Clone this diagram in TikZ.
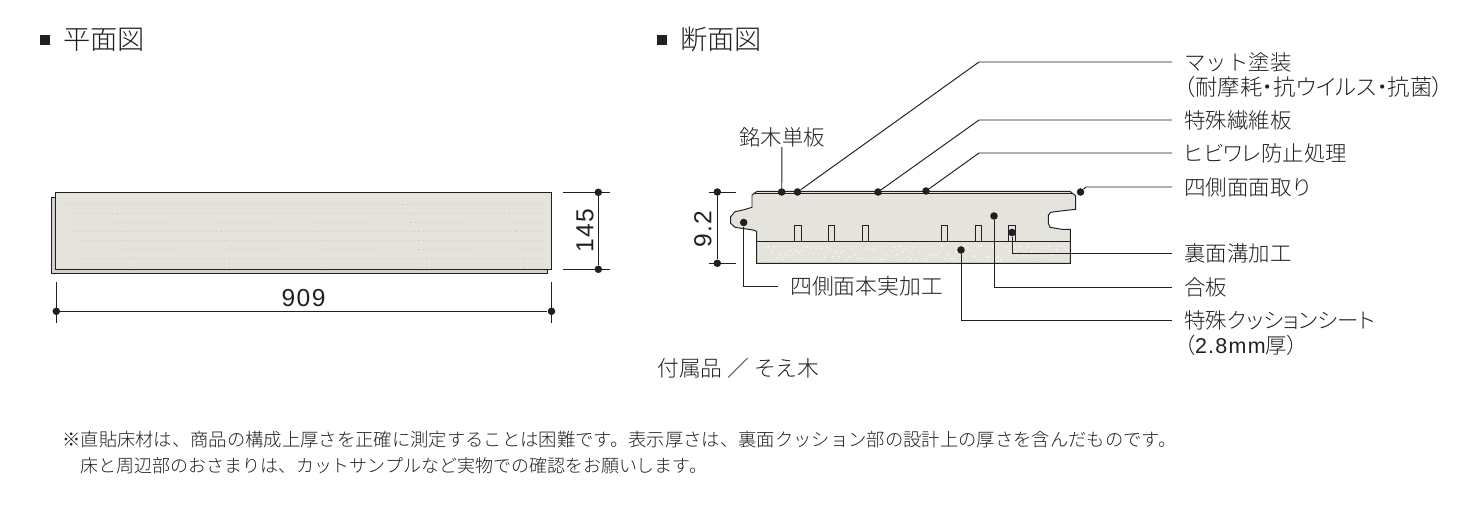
\documentclass[tikz,border=0pt]{standalone}
\usepackage{fontspec}
\setmainfont{Noto Sans CJK JP Light}
\newfontfamily\digitfont[LetterSpace=6]{Liberation Sans}
\newfontfamily\paltfont[RawFeature=+palt]{Noto Sans CJK JP Light}
\definecolor{inkc}{HTML}{231F20}
\definecolor{facec}{HTML}{E4E4DC}
\definecolor{sidec}{HTML}{D2D2CA}
\definecolor{speckc}{HTML}{D0D0C6}
\tikzset{
	pin/.style={circle, fill=inkc, inner sep=0pt, minimum size=4.3pt},
	part/.style={anchor=west, inner xsep=6.8pt, inner ysep=0pt, font=\fontsize{12.2}{12.2}\selectfont, text=inkc},
	heading/.style={anchor=west, inner sep=0pt, font=\fontsize{15.5}{15.5}\selectfont, text=inkc},
	remark/.style={anchor=west, inner sep=0pt, text=inkc},
	size/.style={inner sep=0pt, font=\fontsize{14}{14}\digitfont, text=inkc},
	rule/.style={inkc, line width=0.55pt},
	speck/.style={speckc, line width=0.5pt, dash pattern=on 0.6pt off 1.7pt}
}
\begin{document}
\begin{tikzpicture}[x=0.02cm, y=-0.02cm]
	\useasboundingbox (0,0) rectangle (1469,517);

	% headings
	\fill[inkc] (40,35) rectangle (50,45);
	\node[heading] (headplan) at (63,39.5) {平面図};
	\fill[inkc] (657,35) rectangle (667,45);
	\node[heading] (headcut) at (680,39.5) {断面図};

	% plan
	\filldraw[rule, fill=sidec] (51.3,197.3) rectangle (547.7,273.3);
	\filldraw[rule, fill=facec] (55.3,192.3) rectangle (551.3,269.3);
	\foreach \row/\from in {204/63, 213/68, 222/71, 231/75, 240/79, 249/79, 258/83, 267/83}
		\draw[speck] (\from,\row) -- (543,\row);

	\node[pin] (planL) at (56.3,311.3) {};
	\node[pin] (planR) at (551.5,311.3) {};
	\draw[rule] (planL) -- (planR);
	\draw[rule] (56.3,282) -- (56.3,322.7);
	\draw[rule] (551.5,282) -- (551.5,322.7);
	\node[size] (planlen) at (303.5,298) {909};

	\node[pin] (planT) at (598.3,192.3) {};
	\node[pin] (planB) at (598.3,269.3) {};
	\draw[rule] (planT) -- (planB);
	\draw[rule] (563,192.3) -- (610,192.3);
	\draw[rule] (563,269.3) -- (610,269.3);
	\node[size, rotate=90] (planwid) at (585,230.5) {145};

	% section
	\filldraw[rule, fill=facec] (757,191.3) -- (752,195) -- (752,207.3) -- (743,210) -- (735,211.7)
		-- (730.7,216.7) -- (730.7,223.3) -- (735,227.3) -- (753,230) -- (756.7,231.3)
		-- (756.7,263.3) -- (1070.3,263.3) -- (1070.3,229.3) -- (1061.7,229.3) -- (1050,227.3)
		-- (1048.3,223.3) -- (1048.3,215) -- (1050.7,212.3) -- (1063.3,210.7) -- (1075.7,209.3)
		-- (1075.7,196) -- (1070,191.3) -- cycle;
	\draw[rule] (755,193.6) -- (1072,193.6);
	\draw[rule] (756.7,241) -- (1070.3,241);
	\pgfmathsetseed{7}
	\foreach \i in {1,...,110} {
		\pgfmathsetmacro{\speckx}{760+\i*2.8}
		\pgfmathsetmacro{\specky}{245+15*rnd}
		\fill[white] (\speckx,\specky) circle (0.45pt);
	}
	\foreach \left/\right in {794.3/801.3, 828.3/834.7, 862.3/868.7, 941.3/947.7, 975.3/981.7, 1008.3/1015.7}
		\draw[rule] (\left,241) -- (\left,225.3) -- (\right,225.3) -- (\right,241);

	\node[pin] (cutT) at (717.3,192) {};
	\node[pin] (cutB) at (717.3,263.3) {};
	\draw[rule] (cutT) -- (cutB);
	\draw[rule] (709,192) -- (736,192);
	\draw[rule] (709,263.3) -- (736,263.3);
	\node[size, rotate=90] (cutthick) at (703,229) {9.2};

	% parts
	\node[part] (matt) at (1172,62) {マット塗装};
	\node[part, font=\fontsize{12.7}{12.7}\selectfont] (mattb) at (1172,87) {\paltfont（耐摩耗・抗ウイルス・抗菌）};
	\node[part] (fibre) at (1172,120) {特殊繊維板};
	\node[part] (crack) at (1172,153) {\paltfont ヒビワレ防止処理};
	\node[part] (bevel) at (1172,187) {四側面面取り};
	\node[part] (groove) at (1172,253) {裏面溝加工};
	\node[part] (ply) at (1172,287) {合板};
	\node[part] (sheet) at (1172,320) {\paltfont 特殊クッションシート};
	\node[part] (sheetb) at (1172,345) {\paltfont（{\digitfont 2.8mm}厚）};
	\node[part, anchor=center, inner xsep=0pt] (veneer) at (782,137) {銘木単板};
	\node[part, font=\fontsize{12.4}{12.4}\selectfont] (tongue) at (778,286) {四側面本実加工};

	\node[pin] (dotveneer) at (781.7,192) {};
	\node[pin] (dotmatt) at (797.5,192) {};
	\node[pin] (dotfibre) at (878,192) {};
	\node[pin] (dotcrack) at (926,191) {};
	\node[pin] (dotbevel) at (1080.5,192) {};
	\node[pin] (dotply) at (994,216) {};
	\node[pin] (dotsheet) at (961,250) {};
	\node[pin] (dotgroove) at (1012,232.5) {};
	\node[pin] (dottongue) at (743.7,222.5) {};

	\coordinate (bend) at (979,0);
	\coordinate (bendb) at (1086,0);
	\draw[rule] (dotveneer) -- (veneer);
	\draw[rule] (dotmatt) -- (bend |- matt.west) -- (matt.west);
	\draw[rule] (dotfibre) -- (bend |- fibre.west) -- (fibre.west);
	\draw[rule] (dotcrack) -- (bend |- crack.west) -- (crack.west);
	\draw[rule] (dotbevel) -- (bendb |- bevel.west) -- (bevel.west);
	\draw[rule] (dotgroove) |- (groove.west);
	\draw[rule] (dotply) |- (ply.west);
	\draw[rule] (dotsheet) |- (sheet.west);
	\draw[rule] (dottongue) |- (tongue.west);

	% notes
	\node[part, inner xsep=0pt, font=\fontsize{12.4}{12.4}\selectfont] (extra) at (657,368) {付属品 ／ そえ木};
	\node[remark, font=\fontsize{10.43}{10.43}\selectfont] (noteA) at (62,440) {※直貼床材は、商品の構成上厚さを正確に測定することは困難です。表示厚さは、裏面クッション部の設計上の厚さを含んだものです。};
	\node[remark, font=\fontsize{10.23}{10.23}\selectfont] (noteB) at (80,466) {床と周辺部のおさまりは、カットサンプルなど実物での確認をお願いします。};
\end{tikzpicture}
\end{document}
